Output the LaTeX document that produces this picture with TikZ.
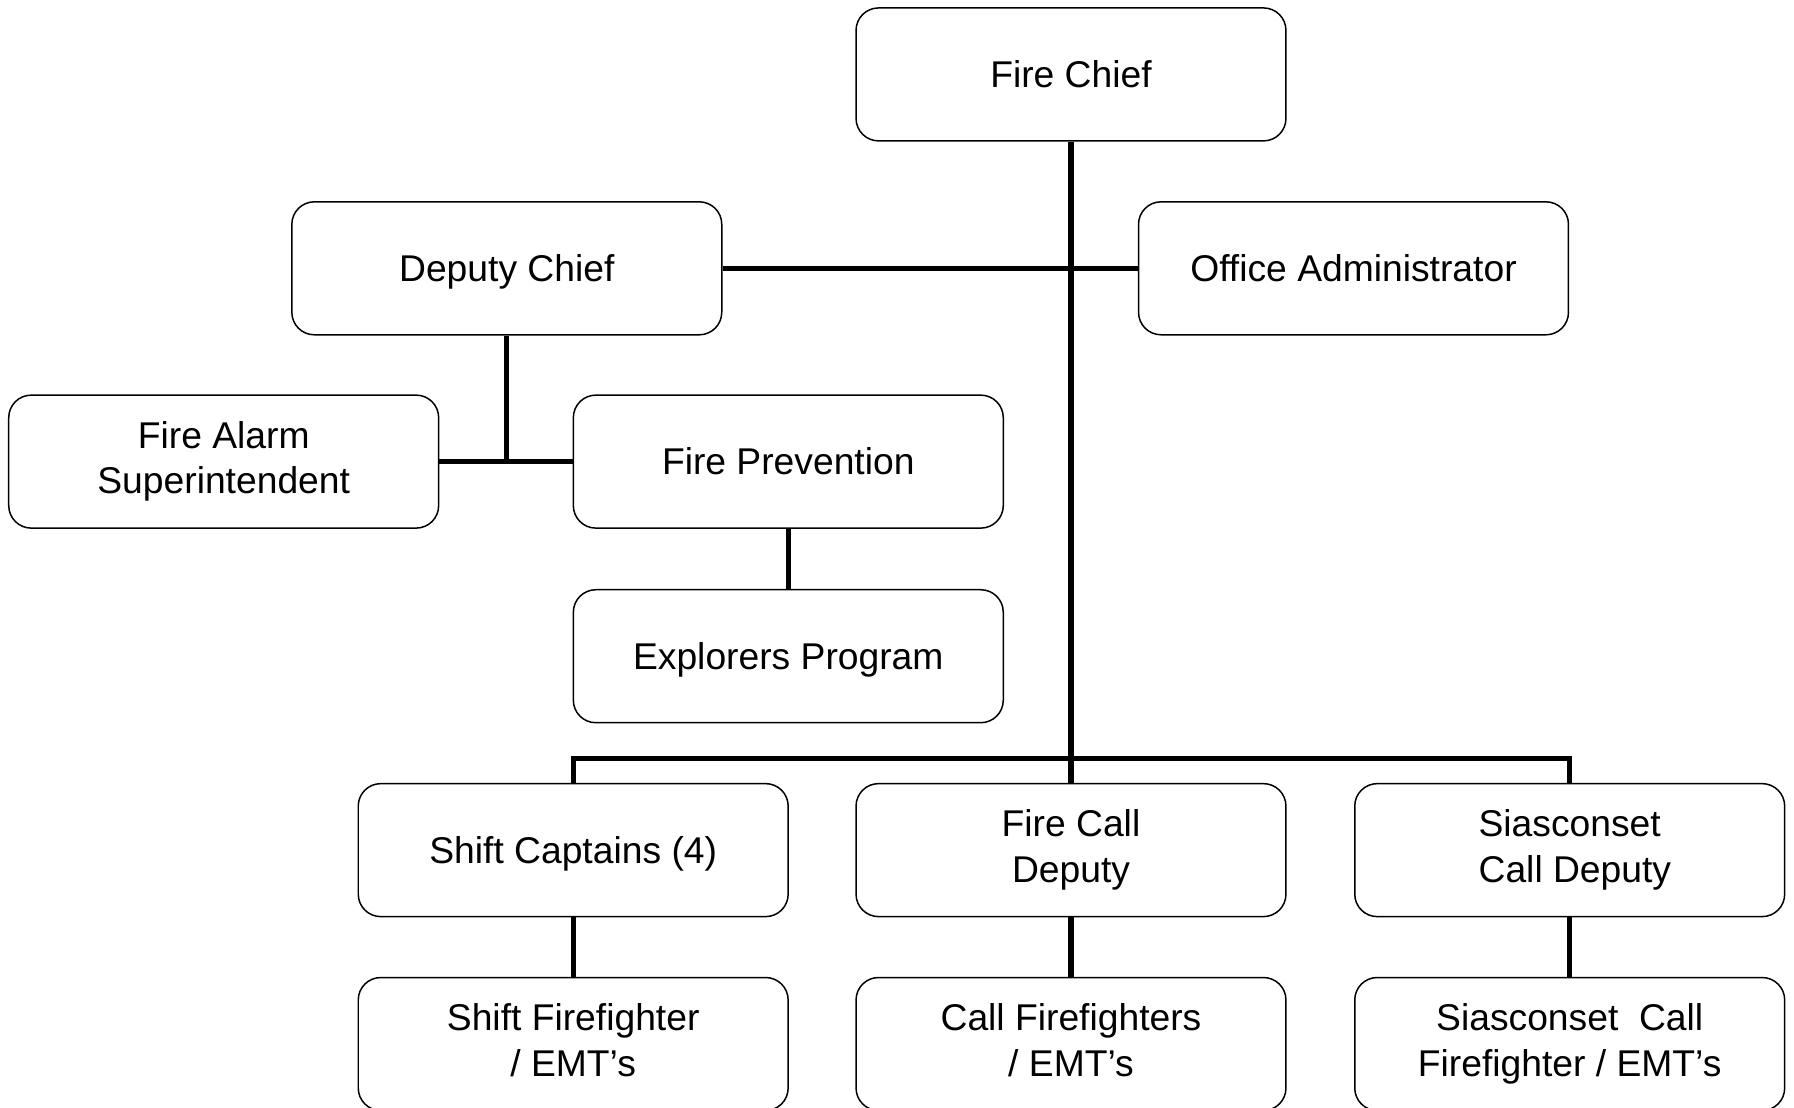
\documentclass[tikz,border=0pt]{standalone}
\usepackage{fontspec}
\setmainfont{Liberation Sans}
\usepackage{tikz}
\usetikzlibrary{positioning,calc}
\newcommand\boxstrut{\rule[-4.5pt]{0pt}{24.2pt}}

\begin{document}
\begin{tikzpicture}[x=0.02cm,y=-0.02cm,
    post/.style={draw,line width=0.85pt,rounded corners=0.45cm,
      minimum width=8.6cm,minimum height=2.66cm,inner sep=0pt,align=center,
      font=\fontsize{21.2}{26}\selectfont,
      execute at begin node=\boxstrut,execute at end node=\boxstrut},
    twoline/.style={post,execute at begin node=\rule{0pt}{26.1pt}},
    link/.style={line width=2.9pt}]
    \useasboundingbox (0,0) rectangle (1794,1107);
    % top level
    \node[post] (chief) at (1071,74.4) {Fire Chief};
    \node[post] (deputy) at (506.8,268.3) {Deputy Chief};
    \node[post] (admin) at (1353.5,268.3) {Office Administrator};
    % under the deputy chief
    \node[twoline] (alarm) at (223.7,461.6) {Fire Alarm\\Superintendent};
    \node[post] (prevention) at (788.3,461.6) {Fire Prevention};
    \node[post] (explorers) at (788.3,656.2) {Explorers Program};
    % captains and deputies
    \node[post] (captains) at (573.2,850.1) {Shift Captains (4)};
    \node[twoline] (calldep) at (1071,850.1) {Fire Call\\Deputy};
    \node[twoline] (siasdep) at (1569.7,850.1) {Siasconset\\\ Call Deputy};
    % firefighters
    \node[twoline] (shiftff) at (573.2,1044) {Shift Firefighter\\/ EMT’s};
    \node[twoline] (callff) at (1071,1044) {Call Firefighters\\/ EMT’s};
    \node[twoline] (siasff) at (1569.7,1044) {Siasconset\ \ Call\\Firefighter / EMT’s};
    % connectors
    \coordinate (bus) at (1071,758.5);
    \coordinate (dbranch) at (deputy.south |- alarm);
    \draw[link] (chief) -- (bus);
    \draw[link] (deputy) -- (admin);
    \draw[link] (deputy) -- (dbranch);
    \draw[link] (alarm) -- (prevention);
    \draw[link] (prevention) -- (explorers);
    \draw[link] (captains) |- (bus) -| (siasdep);
    \draw[link] (bus) -- (calldep);
    \draw[link] (captains) -- (shiftff);
    \draw[link] (calldep) -- (callff);
    \draw[link] (siasdep) -- (siasff);
\end{tikzpicture}
\end{document}
